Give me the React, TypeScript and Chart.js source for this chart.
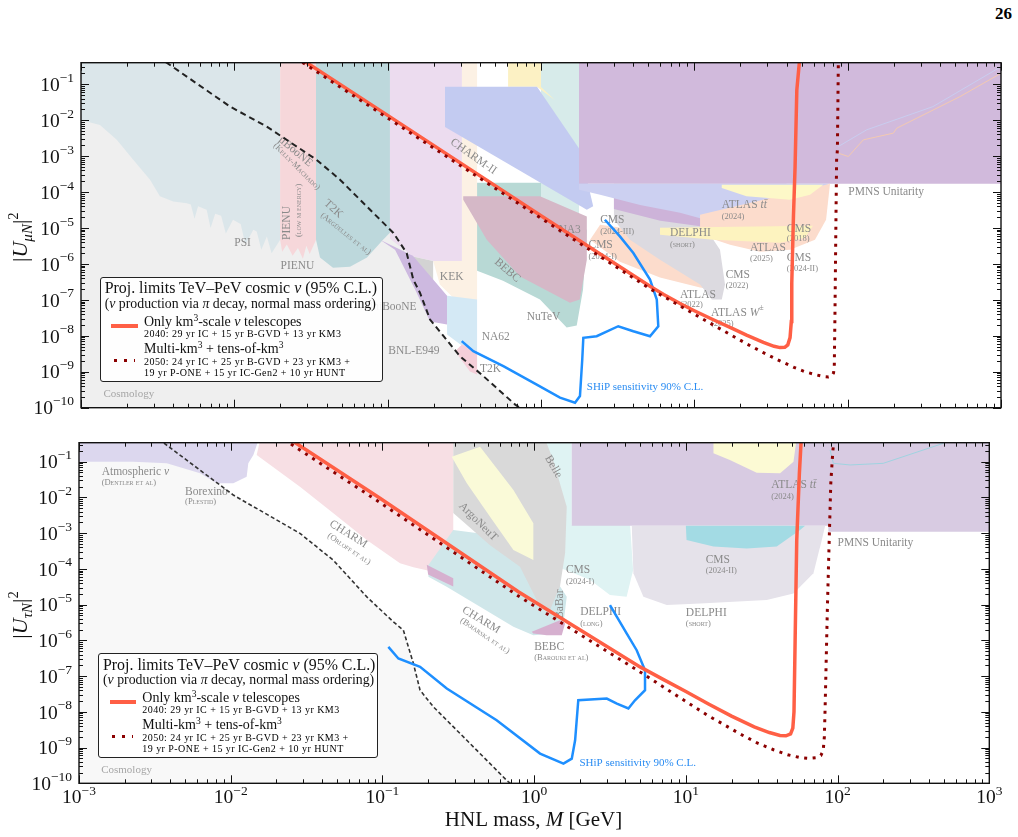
import React, { useEffect, useRef } from 'react';
import { Chart, registerables } from 'chart.js';

Chart.register(...registerables);

type Pt = [number, number];

const FONT = "'Liberation Serif', 'DejaVu Serif', 'Times New Roman', serif";
const RED = '#ff5f45';
const DARKRED = '#8b0000';
const BLUE = '#1e8fff';

// ---------------- axis ticks ----------------
const xMajorTicks = [1e-3, 1e-2, 1e-1, 1, 10, 100, 1000];
const xTickExponents = ['−3', '−2', '−1', '0', '1', '2', '3'];
const yMajorTicks = [1e-10, 1e-9, 1e-8, 1e-7, 1e-6, 1e-5, 1e-4, 1e-3, 1e-2, 1e-1];
const yTickExponents = ['−10', '−9', '−8', '−7', '−6', '−5', '−4', '−3', '−2', '−1'];
const minorMultipliers = [2, 3, 4, 5, 6, 7, 8, 9];

// ================= TOP PANEL: |U_muN|^2 =================
const muKm3: Pt[] = [
  [0.025, 0.64], [0.1, 0.0136], [1, 2.2e-5], [5.14, 2.4e-7], [6.31, 1.41e-7], [8.07, 7.9e-8],
  [10, 5.0e-8], [13.3, 2.8e-8], [17.8, 1.58e-8], [21.9, 1.05e-8], [28.2, 6.6e-9], [33.1, 5.1e-9],
  [36.2, 4.7e-9], [38.9, 4.8e-9], [40.7, 5.6e-9], [42.1, 8.9e-9], [42.9, 2.5e-8], [43.2, 3.0e-7],
  [44.3, 2.1e-5], [45.4, 5.1e-4], [46.6, 0.069], [48.4, 0.4], [49.5, 1.0],
];
const muMultiKm3: Pt[] = [
  [0.025, 0.545], [0.1, 0.01153], [1, 1.87e-5], [5.14, 2.04e-7], [8.07, 6.8e-8], [13.3, 2.0e-8],
  [21.9, 6.0e-9], [28.2, 3.4e-9], [36.2, 2.0e-9], [44.7, 1.32e-9], [52.7, 1.0e-9], [63.1, 8.1e-10],
  [69.3, 7.4e-10], [75.0, 7.2e-10], [78.7, 7.6e-10], [80.9, 9.3e-10], [81.8, 1.41e-9],
  [82.6, 3.5e-8], [83.9, 2.1e-5], [84.7, 7.9e-4], [85.7, 1.5e-3], [86.9, 0.34], [88, 1.0],
];
const muShip: Pt[] = [
  [0.304, 7.1e-9], [0.362, 3.73e-9], [0.568, 1.43e-9], [0.938, 4.4e-10], [1.33, 1.9e-10],
  [1.667, 1.38e-10], [1.795, 2.1e-10], [1.858, 2.2e-9], [1.888, 8.8e-9], [2.307, 9.75e-9],
  [3.19, 1.85e-8], [4.0, 1.34e-8], [5.14, 9.75e-9], [5.82, 1.85e-8], [5.69, 1.02e-7],
  [5.14, 3.66e-7], [4.0, 2.02e-6], [3.27, 5.85e-6], [2.61, 1.7e-5],
];
const muSeesaw: Pt[] = [
  [0.00316, 0.6], [0.00362, 0.398], [0.00938, 0.0239], [0.01626, 6.64e-3], [0.0344, 7.9e-4],
  [0.0489, 2.2e-4], [0.073, 4.0e-5], [0.109, 7.3e-6], [0.133, 2.02e-6], [0.147, 3.66e-7],
  [0.1626, 1.56e-7], [0.189, 2.84e-8], [0.2965, 2.7e-9], [0.421, 7.55e-10], [0.676, 1.24e-10],
  [0.787, 7.9e-11],
];
// faint contour lines in the unitarity region
const muUnitarityLineA: Pt[] = [[86.9, 1.21e-3], [101, 9.75e-4], [126.5, 2.84e-3], [198.6, 4.36e-3], [209, 6.0e-3], [540, 0.0453], [1000, 0.202]];
const muUnitarityLineB: Pt[] = [[86.9, 1.85e-3], [133, 5.4e-3], [360, 0.0239], [1000, 0.308]];

// excluded regions (top)
const muCosmology: Pt[] = [[1e-3, 1e-11], [1e-3, 1], [muSeesaw[0][0], 1], ...muSeesaw, [muSeesaw[muSeesaw.length - 1][0], 1e-11]];
const muPSI: Pt[] = [
  [0.001, 1], [0.0199, 1], [0.0199, 4.7e-6], [0.0175, 2.0e-6], [0.0163, 5.8e-6], [0.015, 2.5e-6],
  [0.014, 8e-6], [0.0133, 9e-6], [0.0118, 3.5e-6], [0.011, 1.3e-5], [0.0098, 1.7e-5], [0.0088, 7e-6],
  [0.0082, 2.2e-5], [0.0075, 2.5e-5], [0.007, 1e-5], [0.0066, 3.2e-5], [0.0058, 4e-5], [0.0055, 1.8e-5],
  [0.0052, 4.5e-5], [0.0049, 4.9e-5], [0.004, 5.5e-5], [0.00327, 7.6e-5], [0.00282, 2.2e-4],
  [0.00219, 7.9e-4], [0.00171, 2.84e-3], [0.00133, 7.4e-3], [0.001, 0.0102],
];
const muPIENU: Pt[] = [
  [0.0199, 1], [0.0341, 1], [0.0341, 4.7e-6], [0.031, 1.9e-6], [0.0295, 3.2e-6], [0.028, 1.4e-6],
  [0.026, 2.8e-6], [0.024, 1.7e-6], [0.022, 3.5e-6], [0.0205, 2.2e-6], [0.0199, 4.7e-6],
];
const muT2K: Pt[] = [
  [0.0341, 1], [0.1035, 1], [0.1035, 7.4e-6], [0.0933, 4.7e-6], [0.0733, 1.5e-6], [0.0568, 8.4e-7],
  [0.044, 7.9e-7], [0.0362, 1.5e-6], [0.0341, 4.7e-6],
];
const muMicroBooNE: Pt[] = [[0.1035, 1], [0.305, 1], [0.305, 1.2e-6], [0.198, 1.2e-6], [0.146, 1.6e-6], [0.1035, 5e-6]];
const muCream: Pt[] = [
  [0.305, 1], [0.383, 1], [0.383, 1.02e-7], [0.344, 5.4e-8], [0.275, 1.02e-7], [0.219, 2.66e-7],
  [0.198, 1.2e-6], [0.305, 1.2e-6],
];
const muKEK: Pt[] = [[0.146, 1.6e-6], [0.198, 1.2e-6], [0.198, 3.0e-7], [0.146, 5.5e-7]];
const muMiniBooNE: Pt[] = [
  [0.0891, 4.7e-6], [0.146, 1.7e-6], [0.244, 1.3e-7], [0.244, 2.06e-8], [0.189, 2.5e-8],
  [0.151, 1.93e-7], [0.1117, 2.5e-6],
];
const muNA62: Pt[] = [[0.244, 1.3e-7], [0.383, 1.02e-7], [0.383, 3.7e-9], [0.298, 5.7e-9], [0.244, 1.09e-8]];
const muT2Kpeak: Pt[] = [[0.305, 5.7e-9], [0.383, 3.7e-9], [0.383, 8.4e-10], [0.344, 1.02e-9], [0.275, 3.7e-9]];
const muTealBand: Pt[] = [[1.0, 1], [1.77, 1], [1.77, 9e-6], [1.33, 1.24e-5], [1.0, 2.34e-5]];
const muYellowTop: Pt[] = [[0.61, 1], [1.0, 1], [1.0, 0.0843], [1.23, 0.0366], [0.94, 0.0858], [0.61, 0.0858]];
const muCHARMII: Pt[] = [[0.2366, 0.0858], [0.942, 0.0858], [1.795, 1.5e-3], [2.19, 4e-5], [1.99, 3.2e-5], [0.2366, 6.5e-3]];
const muBEBC: Pt[] = [
  [0.383, 1.81e-4], [1.0, 1.81e-4], [1.0, 2.34e-5], [1.99, 9.0e-6], [1.88, 1.93e-7], [1.71, 1.93e-8],
  [1.47, 1.7e-8], [0.985, 1.02e-7], [0.565, 3.4e-7], [0.383, 6.5e-7],
];
const muNA3: Pt[] = [
  [0.311, 7.6e-5], [0.985, 7.6e-5], [1.99, 2.1e-5], [1.99, 1.31e-6], [1.79, 1.02e-7], [1.545, 8.3e-8],
  [0.73, 4.5e-7], [0.443, 4.7e-6], [0.311, 6.1e-5],
];
const muUnitarity: Pt[] = [[1.77, 1], [1000, 1], [1000, 1.7e-4], [1.77, 1.7e-4]];
const muPeachB: Pt[] = [
  [2.43, 1.24e-5], [5.14, 7.9e-6], [10.9, 2.5e-6], [14.7, 1.16e-6], [15.1, 3.7e-7], [13.0, 1.93e-7],
  [10.9, 2.2e-7], [5.97, 4.2e-7], [3.27, 1.16e-6], [2.09, 4.7e-6],
];
const muDELPHI: Pt[] = [
  [2.99, 1.7e-4], [10.9, 1.7e-4], [10.9, 1.7e-5], [14.7, 2.5e-6], [15.85, 2.66e-7], [15.1, 1.02e-7],
  [13.0, 1.02e-7], [10.9, 2.66e-7], [5.97, 1.31e-6], [3.8, 4.7e-6], [2.99, 1.7e-5],
];
const muMauveStrip: Pt[] = [[2.99, 1.7e-4], [40, 1.7e-4], [40, 1.3e-5], [13.2, 1.0e-5], [6.0, 1.6e-5], [2.99, 3.4e-5]];
const muATLAStt: Pt[] = [
  [1.77, 1.7e-4], [74.5, 1.7e-4], [68.1, 4.4e-5], [56.8, 2.34e-5], [42.1, 1.5e-5], [21.7, 1.24e-5],
  [13.2, 1.5e-5], [8.07, 2.66e-5], [4.43, 4.4e-5], [2.43, 8.4e-5], [1.77, 1.16e-4],
];
const muPeachA: Pt[] = [
  [10.9, 2.34e-5], [76.7, 1.7e-4], [72.3, 1.7e-5], [61.2, 4.7e-6], [42.1, 2.5e-6], [26.8, 2.2e-6],
  [17.1, 3.4e-6], [10.9, 6.5e-6],
];
const muYellowCMS: Pt[] = [[5.97, 1.02e-5], [59.4, 1.16e-5], [52.7, 5.4e-6], [36.2, 3.9e-6], [13.2, 4.7e-6], [5.97, 6.5e-6]];
const muYellowATLAS: Pt[] = [[15.1, 1.6e-4], [69.3, 1.6e-4], [56.8, 8.4e-5], [42.1, 6.1e-5], [21.9, 7.6e-5], [15.1, 1.29e-4]];

// ================= BOTTOM PANEL: |U_tauN|^2 =================
const tauKm3: Pt[] = [
  [0.0224, 0.55], [0.0964, 9.44e-3], [0.787, 2.29e-5], [4.99, 1.81e-7], [7.08, 8.1e-8], [10, 3.7e-8],
  [14.1, 1.66e-8], [20, 7.6e-9], [28.2, 3.8e-9], [35.5, 2.63e-9], [41.7, 2.19e-9], [45.7, 2.14e-9],
  [49.0, 2.4e-9], [50.7, 3.5e-9], [51.6, 1.0e-8], [52.5, 1.0e-6], [53.8, 6.4e-4], [56.0, 0.0473],
  [57.4, 0.327], [58.5, 1.0],
];
const tauMultiKm3: Pt[] = [
  [0.0224, 0.42], [0.0964, 7.2e-3], [0.787, 1.74e-5], [4.99, 1.31e-7], [8.28, 3.26e-8], [13.7, 8.3e-9],
  [22.8, 2.4e-9], [29.5, 1.35e-9], [37.8, 8.7e-10], [46.8, 6.3e-10], [56.6, 5.25e-10], [64.6, 5.0e-10],
  [72.9, 5.25e-10], [77.6, 6.0e-10], [80.4, 8.3e-10], [81.8, 2.0e-9], [82.8, 1.38e-8],
  [85.7, 8.67e-6], [88.3, 9.86e-4], [90.2, 0.0248], [92.9, 0.179], [94.5, 0.4], [95.5, 1.0],
];
const tauShip: Pt[] = [
  [0.1094, 6.58e-7], [0.1274, 3.11e-7], [0.177, 1.81e-7], [0.2655, 4.5e-8], [0.566, 5.8e-9],
  [1.094, 6.8e-10], [1.56, 3.56e-10], [1.77, 4.9e-10], [1.862, 1.6e-9], [1.954, 2.11e-8],
  [3.01, 2.35e-8], [3.51, 1.7e-8], [4.18, 1.24e-8], [4.62, 2.11e-8], [5.38, 4.03e-8], [5.38, 1.46e-7],
  [4.74, 5.3e-7], [4.07, 1.56e-6], [3.16, 9.7e-6],
];
const tauSeesaw: Pt[] = [
  [0.00316, 0.6], [0.0036, 0.34], [0.0104, 0.01167], [0.0286, 9.86e-4], [0.0474, 1.76e-4],
  [0.0789, 1.65e-5], [0.118, 3.3e-6], [0.1374, 1.93e-6], [0.16, 2.25e-7], [0.177, 4.03e-8],
  [0.217, 1.37e-8], [0.36, 1.6e-9], [0.659, 1.21e-10], [0.748, 7.8e-11],
];
const tauUnitarityLine: Pt[] = [[89.3, 0.213], [93.8, 0.09], [121, 0.081], [200, 0.09], [498, 0.327], [560, 0.5]];

const tauCosmology: Pt[] = [[1e-3, 1e-11], [1e-3, 1], [tauSeesaw[0][0], 1], ...tauSeesaw, [tauSeesaw[tauSeesaw.length - 1][0], 1e-11]];
const tauBorexinoCHARM: Pt[] = [
  [0.0164, 1], [0.293, 1], [0.293, 4.9e-5], [0.196, 9.2e-5], [0.16, 1.12e-4], [0.1306, 1.43e-4],
  [0.0789, 6.4e-4], [0.0475, 3.6e-3], [0.0286, 0.02], [0.01483, 0.154],
];
const tauAtmospheric: Pt[] = [
  [0.001, 1], [0.0164, 1], [0.0141, 0.154], [0.01306, 0.0902], [0.01274, 0.038], [0.0104, 0.0248],
  [0.00809, 0.0248], [0.00628, 0.0473], [0.00379, 0.0902], [0.00228, 0.1], [0.001, 0.1],
];
const tauCMS2024I: Pt[] = [
  [0.988, 1], [1.77, 1], [1.77, 1.69e-3], [4.29, 1.69e-3], [4.49, 9.2e-5], [4.07, 1.65e-5],
  [3.16, 1.85e-5], [2.34, 4.9e-5], [1.64, 9.2e-5], [0.988, 1.76e-4],
];
const tauCHARMBoiarska: Pt[] = [
  [0.201, 1.28e-4], [0.293, 1.22e-3], [0.942, 6.4e-4], [1.64, 1.65e-5], [1.56, 2.97e-6], [1.34, 1.56e-6],
  [0.988, 1.4e-6], [0.73, 2.39e-6], [0.44, 8.7e-6], [0.265, 3.15e-5], [0.201, 6.0e-5],
];
const tauArgoNeuT: Pt[] = [
  [0.293, 1], [1.094, 1], [1.334, 0.1117], [1.64, 5.5e-3], [1.6, 2.8e-4], [1.48, 3.2e-5], [1.27, 7.0e-6],
  [1.094, 8.7e-6], [0.807, 1.15e-4], [0.512, 4.6e-4], [0.293, 3.66e-3],
];
const tauYellowBelle: Pt[] = [
  [0.286, 0.138], [0.44, 0.263], [0.73, 0.0161], [0.988, 1.88e-3], [0.988, 1.76e-4], [0.73, 3.4e-4],
  [0.512, 2.9e-3], [0.36, 0.0248],
];
const tauMauveStrip: Pt[] = [[0.196, 1.3e-4], [0.293, 5.5e-5], [0.293, 3.2e-5], [0.2, 7e-5]];
const tauBEBC: Pt[] = [[0.964, 1.73e-6], [1.48, 3.68e-6], [1.6, 2.97e-6], [1.52, 1.4e-6], [1.21, 1.4e-6], [0.988, 1.56e-6]];
const tauUnitarity: Pt[] = [[1.77, 1], [1000, 1], [1000, 1.09e-3], [86.9, 1.09e-3], [86.9, 1.61e-3], [1.77, 1.61e-3]];
const tauDELPHI: Pt[] = [
  [4.4, 1.61e-3], [82.8, 1.61e-3], [78.7, 6.4e-4], [69.3, 7.5e-5], [51.2, 2.06e-5], [34.1, 1.34e-5],
  [12.4, 1.08e-5], [7.48, 9.7e-6], [5.25, 1.65e-5], [4.51, 7.5e-5],
];
const tauCMS2024II: Pt[] = [[10.0, 1.61e-3], [61.1, 1.61e-3], [56.6, 1.22e-3], [39.7, 4.2e-4], [25.2, 3.75e-4], [15.2, 4.2e-4], [10.1, 6.4e-4]];
const tauYellowTop: Pt[] = [[15.2, 1], [55.2, 1], [51.2, 0.1], [41.8, 0.0473], [29.3, 0.0492], [19.5, 0.1117], [15.2, 0.172]];

// ---------------- text annotations (data coordinates) ----------------
type Label = { t: string; x: number; y: number; k?: string; r?: number; a?: CanvasTextAlign };

const muLabels: Label[] = [
  { t: 'PSI', x: 0.01, y: 3.9e-6 },
  { t: 'PIENU', x: 0.02, y: 8.6e-7 },
  { t: 'KEK', x: 0.219, y: 4.4e-7 },
  { t: 'MiniBooNE', x: 0.1545, y: 6.2e-8, a: 'right' },
  { t: 'BNL-E949', x: 0.101, y: 3.7e-9 },
  { t: 'NA62', x: 0.41, y: 9.0e-9 },
  { t: 'T2K', x: 0.4, y: 1.16e-9 },
  { t: 'NuTeV', x: 0.807, y: 3.4e-8 },
  { t: 'NA3', x: 1.3, y: 9.0e-6 },
  { t: 'CMS', x: 2.43, y: 1.7e-5 }, { t: '(2024-III)', x: 2.43, y: 8.05e-6, k: 's' },
  { t: 'CMS', x: 2.04, y: 3.4e-6 }, { t: '(2024-I)', x: 2.04, y: 1.63e-6, k: 's' },
  { t: 'DELPHI', x: 6.93, y: 7.3e-6 }, { t: '(short)', x: 6.93, y: 3.4e-6, k: 's' },
  { t: 'ATLAS *tt̄*', x: 15.1, y: 4.4e-5 }, { t: '(2024)', x: 15.1, y: 2.1e-5, k: 's' },
  { t: 'CMS', x: 40.1, y: 9.6e-6 }, { t: '(2018)', x: 40.1, y: 4.9e-6, k: 's' },
  { t: 'ATLAS', x: 23.1, y: 2.8e-6 }, { t: '(2025)', x: 23.1, y: 1.4e-6, k: 's' },
  { t: 'CMS', x: 40.1, y: 1.47e-6 }, { t: '(2024-II)', x: 40.1, y: 7.4e-7, k: 's' },
  { t: 'CMS', x: 16.0, y: 4.8e-7 }, { t: '(2022)', x: 16.0, y: 2.4e-7, k: 's' },
  { t: 'ATLAS', x: 8.07, y: 1.4e-7 }, { t: '(2022)', x: 8.07, y: 7.1e-8, k: 's' },
  { t: 'ATLAS *W*^±', x: 12.85, y: 4.4e-8 }, { t: '(2025)', x: 12.85, y: 2.2e-8, k: 's' },
  { t: 'PMNS Unitarity', x: 100.9, y: 9.75e-5 },
  { t: 'Cosmology', x: 0.0014, y: 2.45e-10, k: 'c' },
  { t: 'SHiP sensitivity 90% C.L.', x: 1.99, y: 3.8e-10, k: 'b' },
  { t: 'CHARM-II', x: 0.362, y: 9.75e-4, r: 35 },
  { t: 'BEBC', x: 0.603, y: 6.6e-7, r: 41 },
  { t: 'μBooNE', x: 0.0251, y: 1.34e-3, r: 40 },
  { t: '(Kelly-Machado)', x: 0.0255, y: 5.1e-4, k: 's', r: 45 },
  { t: 'T2K', x: 0.0442, y: 3.4e-5, r: 42 },
  { t: '(Argüelles et al)', x: 0.0532, y: 6.95e-6, k: 's', r: 39 },
  { t: 'PIENU', x: 0.0221, y: 1.38e-5, r: -90 },
  { t: '(low μ energy)', x: 0.0265, y: 3.1e-5, k: 's', r: -90 },
];

const tauLabels: Label[] = [
  { t: 'Atmospheric *ν*', x: 0.00141, y: 0.0505 }, { t: '(Dentler et al)', x: 0.00141, y: 0.0253, k: 's' },
  { t: 'Borexino', x: 0.005, y: 0.01445 }, { t: '(Plestid)', x: 0.005, y: 7.4e-3, k: 's' },
  { t: 'CHARM', x: 0.0596, y: 9.4e-4, r: 32 }, { t: '(Orloff et al)', x: 0.0603, y: 3.6e-4, k: 's', r: 34 },
  { t: 'CHARM', x: 0.447, y: 3.7e-6, r: 31 }, { t: '(Boiarska et al)', x: 0.474, y: 1.34e-6, k: 's', r: 34 },
  { t: 'ArgoNeuT', x: 0.428, y: 2.08e-3, r: 45 },
  { t: 'Belle', x: 1.34, y: 0.0724, r: 60 },
  { t: 'BaBar', x: 1.47, y: 1.03e-5, r: -90 },
  { t: 'CMS', x: 1.62, y: 9.2e-5 }, { t: '(2024-I)', x: 1.62, y: 4.5e-5, k: 's' },
  { t: 'DELPHI', x: 2.01, y: 6.3e-6 }, { t: '(long)', x: 2.01, y: 3.0e-6, k: 's' },
  { t: 'BEBC', x: 1.0, y: 6.6e-7 }, { t: '(Barouki et al)', x: 1.0, y: 3.2e-7, k: 's' },
  { t: 'DELPHI', x: 10, y: 5.9e-6 }, { t: '(short)', x: 10, y: 3.0e-6, k: 's' },
  { t: 'CMS', x: 13.5, y: 1.76e-4 }, { t: '(2024-II)', x: 13.5, y: 8.7e-5, k: 's' },
  { t: 'ATLAS *tt̄*', x: 36.5, y: 0.0222 }, { t: '(2024)', x: 36.5, y: 0.0105, k: 's' },
  { t: 'PMNS Unitarity', x: 100, y: 5.4e-4 },
  { t: 'SHiP sensitivity 90% C.L.', x: 1.99, y: 3.6e-10, k: 'b' },
  { t: 'Cosmology', x: 0.0014, y: 2.3e-10, k: 'c' },
];

const LABEL_STYLES: Record<string, { size: number; color: string; caps?: boolean }> = {
  m: { size: 11.5, color: '#8a8a8a' },
  s: { size: 8.5, color: '#8a8a8a', caps: true },
  b: { size: 11, color: '#2a8cf2' },
  c: { size: 11, color: '#a6a6a6' },
};

// ---------------- helpers ----------------
type Part = { t: string; f: string; dy: number };
const font = (size: number, ital = false, caps = false, bold = false) =>
  `${ital ? 'italic ' : ''}${caps ? 'small-caps ' : ''}${bold ? 'bold ' : ''}${size}px ${FONT}`;

function parseRich(text: string, size: number, caps = false): Part[] {
  const parts: Part[] = [];
  let ital = false;
  text.split('*').forEach((seg, i) => {
    if (i > 0) ital = !ital;
    if (!seg) return;
    const c = seg.indexOf('^');
    if (c >= 0) {
      if (c > 0) parts.push({ t: seg.slice(0, c), f: font(size, ital, caps), dy: 0 });
      parts.push({ t: seg.slice(c + 1), f: font(size * 0.7, ital, caps), dy: -size * 0.4 });
    } else parts.push({ t: seg, f: font(size, ital, caps), dy: 0 });
  });
  return parts;
}

function drawRich(ctx: CanvasRenderingContext2D, parts: Part[], x: number, y: number, align: CanvasTextAlign) {
  ctx.textAlign = 'left';
  let w = 0;
  for (const p of parts) { ctx.font = p.f; w += ctx.measureText(p.t).width; }
  let cx = align === 'center' ? x - w / 2 : align === 'right' ? x - w : x;
  for (const p of parts) {
    ctx.font = p.f;
    ctx.fillText(p.t, cx, y + p.dy);
    cx += ctx.measureText(p.t).width;
  }
}

function regionDataset(data: Pt[], color: string) {
  return {
    data, indexAxis: 'y', fill: 'shape', backgroundColor: color, borderColor: 'rgba(0,0,0,0)',
    borderWidth: 0, pointRadius: 0, tension: 0,
  };
}

type PanelSpec = {
  yMax: number;
  padding: { left: number; right: number; top: number; bottom: number };
  km3: Pt[]; multi: Pt[]; ship: Pt[]; seesaw: Pt[];
  faint: [Pt[], string][];
  regions: [Pt[], string][];
  labels: Label[];
  showX: boolean;
  sub: string;
  seesawStyle: { color: string; width: number; dash: number[] };
};

function buildConfig(p: PanelSpec): any {
  const curves: any[] = [
    { data: p.multi, borderColor: DARKRED, borderWidth: 3, borderDash: [3, 5.5], pointRadius: 0, fill: false, tension: 0 },
    { data: p.km3, borderColor: RED, borderWidth: 3.5, pointRadius: 0, fill: false, tension: 0 },
    { data: p.ship, borderColor: BLUE, borderWidth: 2.5, pointRadius: 0, fill: false, tension: 0 },
    { data: p.seesaw, borderColor: p.seesawStyle.color, borderWidth: p.seesawStyle.width, borderDash: p.seesawStyle.dash, pointRadius: 0, fill: false, tension: 0 },
    ...p.faint.map(([d, c]) => ({ data: d, borderColor: c, borderWidth: 1, pointRadius: 0, fill: false, tension: 0 })),
  ];
  // regions listed bottom-first; Chart.js draws higher indices first, so reverse
  const regionSets = p.regions.slice().reverse().map(([d, c]) => regionDataset(d, c));
  const firstRegionIndex = curves.length;

  const plugin = {
    id: 'paperFrame',
    afterDatasetDraw(chart: any, args: any) {
      if (args.index !== firstRegionIndex) return;
      const { ctx, scales: { x, y } } = chart;
      ctx.save();
      ctx.textBaseline = 'middle';
      for (const L of p.labels) {
        const st = LABEL_STYLES[L.k || 'm'];
        ctx.save();
        ctx.translate(x.getPixelForValue(L.x), y.getPixelForValue(L.y));
        if (L.r) ctx.rotate((L.r * Math.PI) / 180);
        ctx.fillStyle = st.color;
        drawRich(ctx, parseRich(L.t, st.size, !!st.caps), 0, 0, L.a || (L.r ? 'center' : 'left'));
        ctx.restore();
      }
      ctx.restore();
    },
    afterDraw(chart: any) {
      const { ctx, chartArea: a, scales: { x, y } } = chart;
      ctx.save();
      ctx.strokeStyle = '#111';
      ctx.lineWidth = 1;
      ctx.beginPath();
      const tx = (v: number, len: number) => {
        if (v < x.min * 0.999 || v > x.max * 1.001) return;
        const px = Math.round(x.getPixelForValue(v)) + 0.5;
        ctx.moveTo(px, a.bottom); ctx.lineTo(px, a.bottom - len);
        ctx.moveTo(px, a.top); ctx.lineTo(px, a.top + len);
      };
      const ty = (v: number, len: number) => {
        if (v < y.min * 0.999 || v > y.max * 1.001) return;
        const py = Math.round(y.getPixelForValue(v)) + 0.5;
        ctx.moveTo(a.left, py); ctx.lineTo(a.left + len, py);
        ctx.moveTo(a.right, py); ctx.lineTo(a.right - len, py);
      };
      xMajorTicks.forEach((v, i) => {
        tx(v, 8);
        if (i < xMajorTicks.length - 1) minorMultipliers.forEach((m) => tx(v * m, 4));
      });
      yMajorTicks.forEach((v) => {
        ty(v, 8);
        minorMultipliers.forEach((m) => ty(v * m, 4));
      });
      ctx.stroke();
      ctx.lineWidth = 1.4;
      ctx.strokeRect(a.left, a.top, a.right - a.left, a.bottom - a.top);

      // tick labels
      ctx.fillStyle = '#111';
      ctx.textBaseline = 'alphabetic';
      ctx.textAlign = 'left';
      const baseF = font(19.5), expF = font(13.5);
      yMajorTicks.forEach((v, i) => {
        const py = y.getPixelForValue(v);
        ctx.font = expF; const we = ctx.measureText(yTickExponents[i]).width;
        ctx.font = baseF; const wb = ctx.measureText('10').width;
        const right = a.left - 7;
        ctx.fillText('10', right - we - wb, py + 6.7);
        ctx.font = expF; ctx.fillText(yTickExponents[i], right - we, py - 2.5);
      });
      if (p.showX) {
        xMajorTicks.forEach((v, i) => {
          const px = x.getPixelForValue(v);
          ctx.font = expF; const we = ctx.measureText(xTickExponents[i]).width;
          ctx.font = baseF; const wb = ctx.measureText('10').width;
          const start = px - (we + wb) / 2;
          ctx.fillText('10', start, a.bottom + 20);
          ctx.font = expF; ctx.fillText(xTickExponents[i], start + wb, a.bottom + 12);
        });
        drawRich(ctx, [
          { t: 'HNL mass, ', f: font(21), dy: 0 },
          { t: 'M', f: font(21, true), dy: 0 },
          { t: ' [GeV]', f: font(21), dy: 0 },
        ], 533.5, a.bottom + 43, 'center');
      }
      // y title
      ctx.save();
      ctx.translate(20, (a.top + a.bottom) / 2 + 2);
      ctx.rotate(-Math.PI / 2);
      drawRich(ctx, [
        { t: '|', f: font(22), dy: 0 },
        { t: 'U', f: font(22, true), dy: 0 },
        { t: p.sub, f: font(15, true), dy: 5 },
        { t: '|', f: font(22), dy: 0 },
        { t: '2', f: font(14.5), dy: -9 },
      ], 0, 7, 'center');
      ctx.restore();
      ctx.restore();
    },
  };

  return {
    type: 'line',
    data: { datasets: [...curves, ...regionSets] },
    options: {
      animation: false,
      responsive: false,
      devicePixelRatio: 1,
      events: [],
      layout: { padding: p.padding },
      scales: {
        x: { type: 'logarithmic', min: 1e-3, max: 1e3, display: false },
        y: { type: 'logarithmic', min: 1e-10, max: p.yMax, display: false },
      },
      plugins: { legend: { display: false }, tooltip: { enabled: false }, title: { display: false } },
    },
    plugins: [plugin],
  };
}

const topSpec: PanelSpec = {
  yMax: 0.398,
  padding: { left: 81, right: 17, top: 62.7, bottom: 12.3 },
  km3: muKm3, multi: muMultiKm3, ship: muShip, seesaw: muSeesaw,
  faint: [[muUnitarityLineA, '#f3c9b0'], [muUnitarityLineB, '#c9cdef']],
  regions: [
    [muCosmology, '#efefef'], [muPSI, '#dbe6ea'], [muPIENU, '#f6d7da'], [muT2K, '#bdd8dc'],
    [muMicroBooNE, '#ecdcef'], [muCream, '#fcf1e4'], [muKEK, '#d3d3d3'], [muMiniBooNE, '#cdb9e0'],
    [muNA62, '#d4e9f5'], [muT2Kpeak, '#f5cfd9'], [muTealBand, '#d7ebea'], [muYellowTop, '#fcf1c4'],
    [muBEBC, '#b8d9d5'], [muNA3, '#d5b8c7'], [muCHARMII, '#c3cbf1'], [muUnitarity, '#d1badc'],
    [muPeachB, '#fcdccc'], [muDELPHI, '#dcdae0'], [muMauveStrip, '#cdb3d9'], [muATLAStt, '#ccd0f1'],
    [muPeachA, '#fcdccc'], [muYellowCMS, '#fdf3bf'], [muYellowATLAS, '#fdf8c8'],
  ],
  labels: muLabels,
  showX: false,
  sub: 'μN',
  seesawStyle: { color: '#222', width: 2, dash: [6, 4] },
};

const bottomSpec: PanelSpec = {
  yMax: 0.34,
  padding: { left: 79, right: 28.7, top: 22.7, bottom: 53.7 },
  km3: tauKm3, multi: tauMultiKm3, ship: tauShip, seesaw: tauSeesaw,
  faint: [[tauUnitarityLine, '#9fd3e0']],
  regions: [
    [tauCosmology, '#f8f8f8'], [tauBorexinoCHARM, '#f7dfe4'], [tauAtmospheric, '#dcd7ee'],
    [tauCMS2024I, '#dff3f3'], [tauCHARMBoiarska, '#d0e7ea'], [tauArgoNeuT, '#d9d9d9'],
    [tauYellowBelle, '#fafad8'], [tauMauveStrip, '#d6b0cf'], [tauBEBC, '#d6b0cf'],
    [tauUnitarity, '#d8cbe2'], [tauDELPHI, '#e5e2ea'], [tauCMS2024II, '#a3dbe4'], [tauYellowTop, '#fcfad4'],
  ],
  labels: tauLabels,
  showX: true,
  sub: 'τN',
  seesawStyle: { color: '#333', width: 1.6, dash: [4, 2.5] },
};

// ---------------- legend (HTML) ----------------
function LegendBox({ left, top, width }: { left: number; top: number; width: number }) {
  const row = (t: number, l: number, fs: number, extra: any = {}) => ({
    position: 'absolute' as const, left: l, top: t, transform: 'translateY(-50%)', fontSize: fs,
    lineHeight: 1, whiteSpace: 'nowrap' as const, ...extra,
  });
  const sup = { fontSize: '0.68em', verticalAlign: '0.5em', lineHeight: 0 };
  const small = { letterSpacing: '0.45px', color: '#000' };
  const dot = (l: number, w: number) => (
    <div style={{ position: 'absolute', left: l, top: 81, width: w, height: 3, background: DARKRED }} />
  );
  return (
    <div style={{
      position: 'absolute', left, top, width, height: 105, boxSizing: 'border-box', border: '1.3px solid #222',
      borderRadius: 3, background: 'rgba(255,255,255,0.9)', fontFamily: FONT, color: '#111',
    }}>
      <div style={row(10.3, 3.7, 15.9)}>Proj. limits TeV–PeV cosmic <i>ν</i> (95% C.L.)</div>
      <div style={row(25.5, 3.7, 13.8)}>(<i>ν</i> production via <i>π</i> decay, normal mass ordering)</div>
      <div style={{ position: 'absolute', left: 10.4, top: 46, width: 26.6, height: 3.5, background: RED }} />
      <div style={row(43.7, 43, 14)}>Only km<sup style={sup}>3</sup>-scale <i>ν</i> telescopes</div>
      <div style={row(55.5, 43, 10, small)}>2040: 29 yr IC + 15 yr B-GVD + 13 yr KM3</div>
      <div style={row(70.5, 43, 14)}>Multi-km<sup style={sup}>3</sup> + tens-of-km<sup style={sup}>3</sup></div>
      {dot(12.7, 3)}{dot(22.7, 3)}{dot(32.7, 1.4)}
      <div style={row(83.5, 43, 10, small)}>2050: 24 yr IC + 25 yr B-GVD + 23 yr KM3 +</div>
      <div style={row(94.5, 43, 10, small)}>19 yr P-ONE + 15 yr IC-Gen2 + 10 yr HUNT</div>
    </div>
  );
}

export default function App() {
  const topRef = useRef<HTMLCanvasElement>(null);
  const botRef = useRef<HTMLCanvasElement>(null);
  useEffect(() => {
    const c1 = new Chart(topRef.current as HTMLCanvasElement, buildConfig(topSpec));
    const c2 = new Chart(botRef.current as HTMLCanvasElement, buildConfig(bottomSpec));
    return () => { c1.destroy(); c2.destroy(); };
  }, []);
  return (
    <div style={{ position: 'absolute', left: 0, top: 0, width: 1018, height: 837, background: '#fff', fontFamily: FONT }}>
      <div style={{ position: 'absolute', right: 6, top: 5, fontWeight: 'bold', fontSize: 17, lineHeight: '17px' }}>26</div>
      <canvas ref={topRef} width={1018} height={420} style={{ position: 'absolute', left: 0, top: 0 }} />
      <canvas ref={botRef} width={1018} height={417} style={{ position: 'absolute', left: 0, top: 420 }} />
      <LegendBox left={100} top={277} width={283} />
      <LegendBox left={98.3} top={653.3} width={279.4} />
    </div>
  );
}
